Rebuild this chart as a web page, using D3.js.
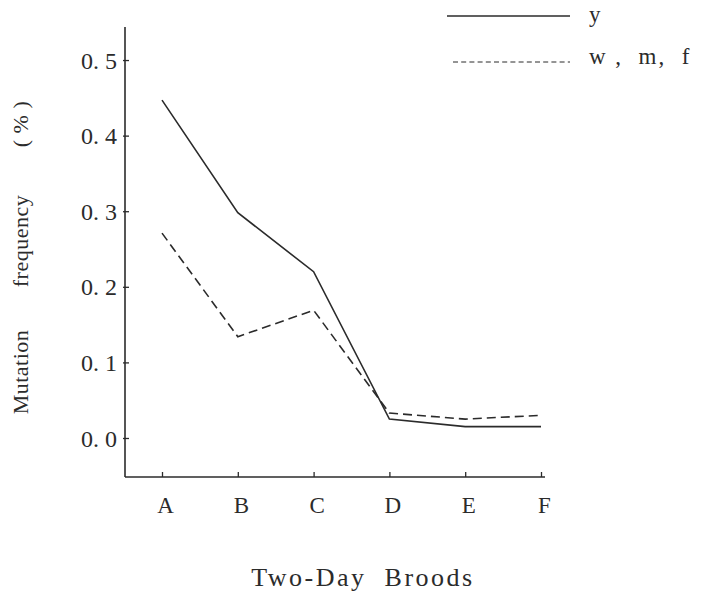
<!DOCTYPE html>
<html>
<head>
<meta charset="utf-8">
<script src="https://cdn.jsdelivr.net/npm/d3@7"></script>
<style>
  body { margin: 0; background: #fff; }
  text { font-family: "Liberation Serif", "DejaVu Serif", serif; fill: #2b2b2b; white-space: pre; }
</style>
</head>
<body>
<svg width="726" height="591"></svg>
<script>
// broods on the x axis
var broods = ["A", "B", "C", "D", "E", "F"];
// mutation frequency (%) per brood
var yValues = [0.447, 0.298, 0.220, 0.025, 0.015, 0.015];
var wmfValues = [0.271, 0.134, 0.169, 0.033, 0.025, 0.030];
var yTicks = [0.0, 0.1, 0.2, 0.3, 0.4, 0.5];
var seriesNames = ["y", "w ,  m,  f"];
var yTitleWords = ["Mutation", "frequency", "( % )"];

var svg = d3.select("svg");
var ink = "#2b2b2b";

var x = d3.scalePoint().domain(broods).range([162, 541]);
var y = d3.scaleLinear().domain([-0.0516, 0.5437]).range([477, 27]);
var x0 = 125, x1 = 545;

var series = [
  {name: seriesNames[0], values: yValues, dash: null, ly: 16, ty: 6},
  {name: seriesNames[1], values: wmfValues, dash: "9,5", ly: 62, ty: 2}
];

// axes
var yAxis = svg.append("g").attr("transform", "translate(" + x0 + ",0)")
  .call(d3.axisLeft(y).tickValues(yTicks).tickSize(0)
    .tickFormat(function(d) { return d.toFixed(1).replace(".", ". "); }));
yAxis.select(".domain").remove();
yAxis.selectAll(".tick text").attr("x", -8).attr("dy", "0.34em")
  .style("font-size", "24px").style("font-family", null).attr("fill", ink);
yAxis.selectAll(".tick").append("line")
  .attr("x1", -2).attr("x2", 4).attr("stroke", ink).attr("stroke-width", 1.3);
svg.append("line").attr("x1", x0).attr("x2", x0)
  .attr("y1", y.range()[0]).attr("y2", y.range()[1])
  .attr("stroke", ink).attr("stroke-width", 1.6);

var xAxis = svg.append("g").attr("transform", "translate(0," + y.range()[0] + ")")
  .call(d3.axisBottom(x).tickSize(0));
xAxis.select(".domain").remove();
xAxis.selectAll(".tick text").attr("y", 36).attr("dy", 0).attr("dx", 3)
  .style("font-size", "23px").style("font-family", null).attr("fill", ink);
xAxis.selectAll(".tick").append("line")
  .attr("y1", 0).attr("y2", -5).attr("stroke", ink).attr("stroke-width", 1.3);
svg.append("line").attr("x1", x0).attr("x2", x1)
  .attr("y1", y.range()[0]).attr("y2", y.range()[0])
  .attr("stroke", ink).attr("stroke-width", 1.6);

// lines
var line = d3.line()
  .x(function(d, i) { return x(broods[i]); })
  .y(function(d) { return y(d); });

svg.selectAll(".series").data(series).enter().append("path")
  .attr("class", "series")
  .attr("d", function(d) { return line(d.values); })
  .attr("fill", "none").attr("stroke", ink).attr("stroke-width", 1.6)
  .attr("stroke-dasharray", function(d) { return d.dash; });

// legend
var leg = svg.selectAll(".leg").data(series).enter().append("g")
  .attr("class", "leg")
  .attr("transform", function(d) { return "translate(0," + d.ly + ")"; });
leg.append("line").attr("x1", function(d) { return d.dash ? 453 : 447; }).attr("x2", 570)
  .attr("stroke", ink).attr("stroke-width", function(d) { return d.dash ? 1 : 1.5; })
  .attr("stroke-dasharray", function(d) { return d.dash ? "5,3.2" : null; });
leg.append("text").attr("x", 589).attr("y", function(d) { return d.ty; })
  .style("font-size", "23px").style("letter-spacing", "2px")
  .text(function(d) { return d.name; });

// axis titles
svg.append("text").attr("x", 363).attr("y", 586).attr("text-anchor", "middle")
  .style("font-size", "26px").style("letter-spacing", "2.5px").text("Two-Day  Broods");

var yCenters = [372, 241, 124];
svg.selectAll(".ytitle").data(yTitleWords).enter().append("text")
  .attr("class", "ytitle")
  .attr("transform", function(d, i) { return "translate(28," + yCenters[i] + ") rotate(-90)"; })
  .attr("text-anchor", "middle").style("font-size", "22px").style("letter-spacing", "0.5px")
  .text(function(d) { return d; });
</script>
</body>
</html>
